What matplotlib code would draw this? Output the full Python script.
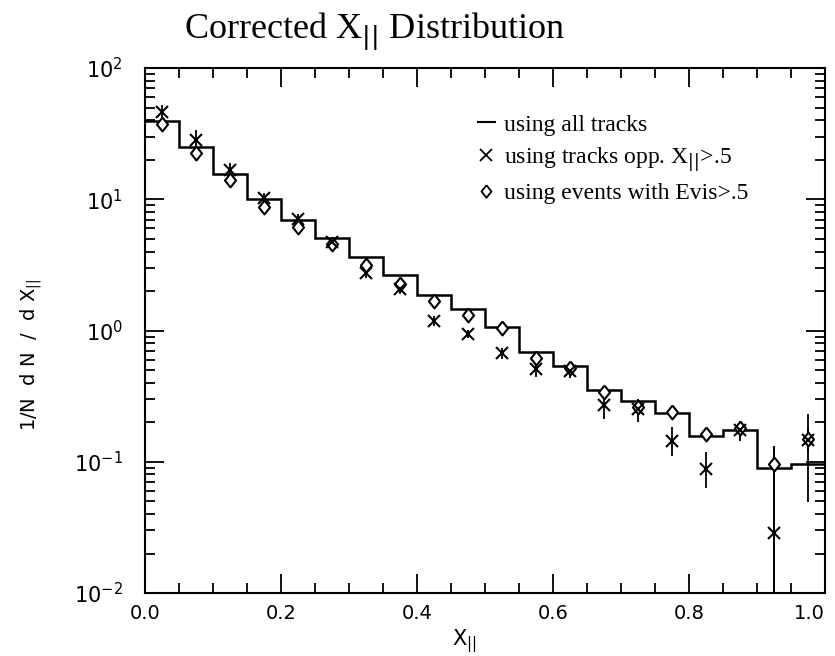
import matplotlib
matplotlib.use("Agg")
import matplotlib.pyplot as plt
from matplotlib.lines import Line2D
from matplotlib.ticker import MultipleLocator, LogLocator, NullFormatter
import numpy as np

# bin edges in X_parallel
edges = np.linspace(0.0, 1.0, 21)
centers = 0.5 * (edges[:-1] + edges[1:])

# histogram: all tracks
all_tracks = [39.4, 24.9, 15.7, 10.0, 7.0, 5.07, 3.65, 2.63, 1.86, 1.47,
              1.07, 0.684, 0.54, 0.355, 0.292, 0.237, 0.156, 0.175, 0.089, 0.097]

# tracks opposite X_par > .5
opp_tracks = [46.4, 28.5, 16.6, 10.2, 7.1, 4.72, 2.75, 2.09, 1.19, 0.944,
              0.67, 0.51, 0.495, 0.272, 0.252, 0.145, 0.088, 0.175, 0.0288, 0.146]
opp_err_lo = [5.0, 4.5, 1.8, 1.0, 0.6, 0.35, 0.25, 0.18, 0.1, 0.07,
              0.06, 0.07, 0.06, 0.06, 0.05, 0.035, 0.025, 0.03, 0.028, 0.097]
opp_err_hi = [5.5, 5.5, 2.2, 1.0, 0.6, 0.35, 0.25, 0.18, 0.1, 0.07,
              0.06, 0.07, 0.06, 0.06, 0.05, 0.04, 0.03, 0.03, 0.1, 0.084]

# events with Evis > .5
evis = [37.4, 22.6, 14.0, 8.73, 6.15, 4.59, 3.13, 2.28, 1.68, 1.32,
        1.04, 0.62, 0.52, 0.338, 0.263, 0.241, 0.163, 0.181, 0.097, 0.15]
evis_err_lo = [3.0, 3.0, 1.0, 0.6, 0.35, 0.2, 0.15, 0.1, 0.08, 0.06,
               0.04, 0.03, 0.025, 0.02, 0.02, 0.015, 0.015, 0.015, 0.096, 0.03]
evis_err_hi = [3.0, 3.0, 1.0, 0.6, 0.35, 0.2, 0.15, 0.1, 0.08, 0.06,
               0.04, 0.03, 0.025, 0.02, 0.02, 0.015, 0.015, 0.015, 0.035, 0.03]

x_ticks = [0.0, 0.2, 0.4, 0.6, 0.8, 1.0]
x_ticklabels = ["0.0", "0.2", "0.4", "0.6", "0.8", "1.0"]

# slightly squat open diamond
diamond = [(0, 1), (0.8, 0), (0, -1), (-0.8, 0), (0, 1)]

fig = plt.figure(figsize=(8.35, 6.56), dpi=100)
ax = fig.add_axes([0.1737, 0.096, 0.8143, 0.8003])

ax.stairs(all_tracks, edges, baseline=None, color="black", lw=1.8)
ax.errorbar(centers, opp_tracks, yerr=[opp_err_lo, opp_err_hi], fmt="x",
            color="black", ms=9, mew=1.5, elinewidth=1.3, capsize=0)
ax.errorbar(centers, evis, yerr=[evis_err_lo, evis_err_hi], fmt="none",
            ecolor="black", elinewidth=1.3, capsize=0)
ax.plot(centers, evis, ls="none", marker=diamond, ms=10, mfc="white",
        mec="black", mew=1.5)

ax.set_yscale("log")
ax.set_xlim(0.0, 1.0)
ax.set_ylim(1e-2, 1e2)

ax.set_xticks(x_ticks, x_ticklabels)
ax.xaxis.set_minor_locator(MultipleLocator(0.05))
ax.yaxis.set_minor_locator(LogLocator(base=10, subs=np.arange(2, 10)))
ax.yaxis.set_minor_formatter(NullFormatter())

ax.tick_params(which="both", direction="in", top=True, right=True, width=1.3)
ax.tick_params(which="major", length=14)
ax.tick_params(which="minor", length=7)
ax.tick_params(axis="x", which="major", labelsize=14, pad=8)
ax.tick_params(axis="y", which="major", labelsize=15, pad=16)
for s in ax.spines.values():
    s.set_linewidth(1.5)

# keep the last x label inside the figure
ax.get_xticklabels()[-1].set_horizontalalignment("right")

ax.set_xlabel(r"X$_{||}$", fontsize=15)
ax.xaxis.set_label_coords(0.47, -0.066)
ax.set_ylabel(r"1/N  d N  /  d X$_{||}$", fontsize=14)
ax.yaxis.set_label_coords(-0.148, 0.453)
fig.text(0.449, 0.942, r"Corrected X$_{||}$ Distribution", ha="center",
         va="baseline", fontsize=26, family="Liberation Serif")

handles = [
    Line2D([], [], color="black", lw=1.5),
    Line2D([], [], color="black", marker="x", ls="none", ms=8, mew=1.3),
    Line2D([], [], color="black", marker=diamond, mfc="white", ls="none",
           ms=9, mew=1.3),
]
labels = ["using all tracks", r"using tracks opp. X$_{||}$>.5",
          "using events with Evis>.5"]
ax.legend(handles, labels, loc="upper left", bbox_to_anchor=(0.49, 0.912),
          frameon=False, borderpad=0, borderaxespad=0, handlelength=0.7,
          handletextpad=0.4, labelspacing=0.4,
          prop={"family": "Liberation Serif", "size": 17})

fig.savefig("out.png", dpi=100)
